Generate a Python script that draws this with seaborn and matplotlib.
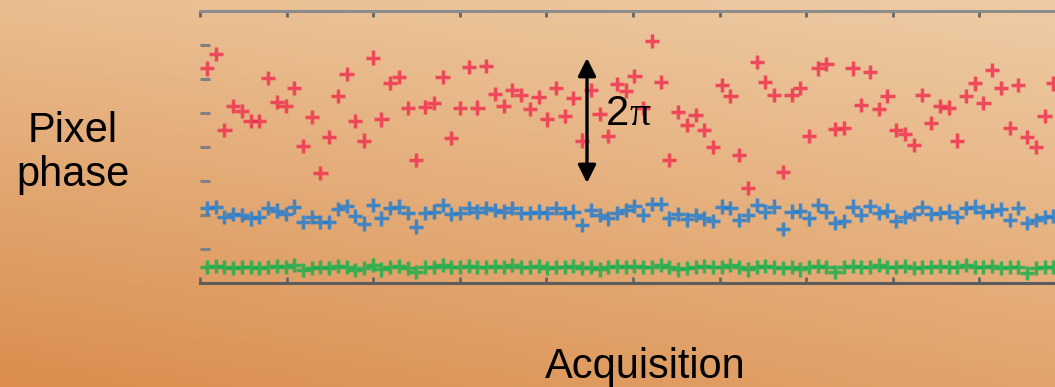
import numpy as np
import pandas as pd
import matplotlib
matplotlib.use('Agg')
import matplotlib.pyplot as plt
import seaborn as sns

# phase values (one point per acquisition)
red = [6.31, 6.74, 4.50, 5.21, 5.07, 4.77, 4.77, 6.04, 5.33, 5.21, 5.73, 4.03, 4.89, 3.24, 4.30,
       5.50, 6.14, 4.77, 4.19, 6.63, 4.81, 5.89, 6.05, 5.14, 3.62,
       5.17, 5.30, 6.07, 4.27, 5.14, 6.36, 5.16, 6.38, 5.55, 5.21, 5.68, 5.53, 5.11, 5.48, 4.81,
       5.73, 4.92, 5.45, 4.19, 5.68, 4.97, 4.32, 5.85, 5.66,
       6.09, 5.14, 7.12, 5.92, 3.62, 5.04, 4.65, 4.94, 4.50, 4.01, 5.82, 5.51, 3.76, 2.79, 6.49,
       5.92, 5.53, 3.26, 5.53, 5.73, 4.32, 6.31, 6.43, 4.53,
       4.55, 6.31, 5.24, 6.21, 5.12, 5.51, 4.50, 4.38, 4.06, 5.53, 4.71, 5.21, 5.16, 4.19, 5.51,
       5.87, 5.29, 6.26, 5.73, 4.55, 5.82, 4.30, 4.01, 4.91, 5.87]
blue = [2.20, 2.23, 1.93, 2.03, 2.00, 1.90, 1.95, 2.20, 2.13, 2.03, 2.25, 1.80, 1.95, 1.80, 1.80,
        2.17, 2.26, 1.97, 1.75, 2.29, 1.90, 2.20, 2.25, 2.05, 1.66, 2.07, 2.10, 2.29, 2.03, 2.05,
        2.20, 2.10, 2.20, 2.15, 2.10, 2.20, 2.05, 2.05, 2.10, 2.05, 2.20, 2.05, 2.10, 1.71, 2.15,
        2.00, 1.90, 2.05, 2.15,
        2.26, 2.00, 2.32, 2.32, 1.90, 2.03, 1.87, 2.00, 1.90, 1.83, 2.25, 2.20, 1.85, 2.00, 2.29,
        2.10, 2.25, 1.58, 2.10, 2.13, 1.90, 2.29, 2.10, 1.77, 1.83, 2.25, 2.00, 2.26, 2.05, 2.13,
        1.83, 1.95, 2.03, 2.23, 2.03, 2.05, 2.10, 1.95, 2.20, 2.25, 2.10, 2.13, 2.17, 1.85, 2.20,
        1.77, 1.85, 1.93, 1.97]
green = [0.48, 0.50, 0.46, 0.43, 0.48, 0.46, 0.43, 0.48, 0.50, 0.46, 0.53, 0.38, 0.43, 0.46, 0.43,
         0.50, 0.48, 0.38, 0.43, 0.53, 0.40, 0.48, 0.50, 0.43, 0.33, 0.48, 0.46, 0.53, 0.46, 0.48,
         0.50, 0.46, 0.48, 0.50, 0.46, 0.53, 0.48, 0.46, 0.50, 0.43, 0.48, 0.46, 0.50, 0.43, 0.48,
         0.40, 0.46, 0.50, 0.48,
         0.50, 0.46, 0.48, 0.53, 0.46, 0.40, 0.43, 0.48, 0.50, 0.46, 0.48, 0.53, 0.46, 0.40, 0.48,
         0.50, 0.46, 0.43, 0.48, 0.40, 0.46, 0.50, 0.48, 0.33, 0.46, 0.50, 0.48, 0.46, 0.53, 0.48,
         0.46, 0.50, 0.43, 0.48, 0.46, 0.50, 0.48, 0.46, 0.53, 0.48, 0.46, 0.50, 0.43, 0.48, 0.46,
         0.30, 0.43, 0.48, 0.46]
series = ['red', 'blue', 'green']
colors = ['#F02C4E', '#1C7CD4', '#12B04C']

n = len(red)
acq = np.arange(1, n + 1)
df = pd.DataFrame({'Acquisition': np.tile(acq, 3),
                   'Phase': red + blue + green,
                   'Series': np.repeat(series, n)})

sns.set_style('white')
plt.rcParams['font.family'] = ['Liberation Sans', 'DejaVu Sans']
plt.rcParams['text.color'] = 'black'

fig = plt.figure(figsize=(10.55, 3.87), dpi=100)

# orange gradient background
bg = fig.add_axes([0, 0, 1, 1], zorder=0)
c_tl = np.array([0xE9, 0xBD, 0x90]) / 255
c_tr = np.array([0xEE, 0xCB, 0xA5]) / 255
c_bl = np.array([0xDA, 0x8D, 0x4D]) / 255
c_br = np.array([0xE2, 0xA4, 0x6C]) / 255
u = np.linspace(0, 1, 200)[None, :, None]
v = np.linspace(0, 1, 80)[:, None, None]
img = (1 - v) * ((1 - u) * c_tl + u * c_tr) + v * ((1 - u) * c_bl + u * c_br)
bg.imshow(img, aspect='auto', extent=[0, 1, 0, 1])
bg.axis('off')

ax = fig.add_axes([200 / 1055, 104 / 387, 855 / 1055, 272 / 387], zorder=1)
ax.patch.set_alpha(0)
sns.scatterplot(data=df, x='Acquisition', y='Phase', hue='Series', palette=colors,
                marker='+', s=105, linewidth=2.5, alpha=0.8, legend=False, ax=ax)

ax.set_xlim(0.2, 98.2)
ax.set_ylim(0, 8)
ax.set_xticks(0.2 + 9.925 * np.arange(10))
ax.set_yticks(np.arange(1, 8))
ax.set_xticklabels([])
ax.set_yticklabels([])
ax.set_xlabel('')
ax.set_ylabel('')
for side in ['left', 'right']:
    ax.spines[side].set_visible(False)
ax.spines['top'].set_color('#8c8c8c')
ax.spines['bottom'].set_color('#5c5c5c')
ax.spines['top'].set_linewidth(2.2)
ax.spines['bottom'].set_linewidth(2.2)
ax.tick_params(axis='x', which='both', direction='in', top=True, bottom=True,
               length=4, width=2, color='#666666')
ax.tick_params(axis='y', direction='in', left=True, length=7, width=2.2, color='#808080')

# 2pi arrow
fig.patches.append(matplotlib.patches.FancyArrowPatch(
    (587 / 1055, 1 - 58 / 387), (587 / 1055, 1 - 183 / 387), transform=fig.transFigure,
    arrowstyle='<|-|>', mutation_scale=27, lw=2.4, color='black', zorder=5,
    shrinkA=0, shrinkB=0))
fig.text(606 / 1055, 1 - 125 / 387, '2', fontsize=30, ha='left', va='baseline',
         color='black', zorder=6)
fig.text(629 / 1055, 1 - 125 / 387, '\u03c0', fontsize=30, ha='left', va='baseline',
         family=['Liberation Serif', 'DejaVu Serif'], color='black', zorder=6)

fig.text(73 / 1055, 1 - 153 / 387, 'Pixel\nphase', fontsize=30, ha='center', va='center',
         linespacing=1.1, color='black')
fig.text(645 / 1055, 1 - 378 / 387, 'Acquisition', fontsize=30, ha='center', va='baseline',
         color='black')

fig.savefig('out.png', dpi=100)
